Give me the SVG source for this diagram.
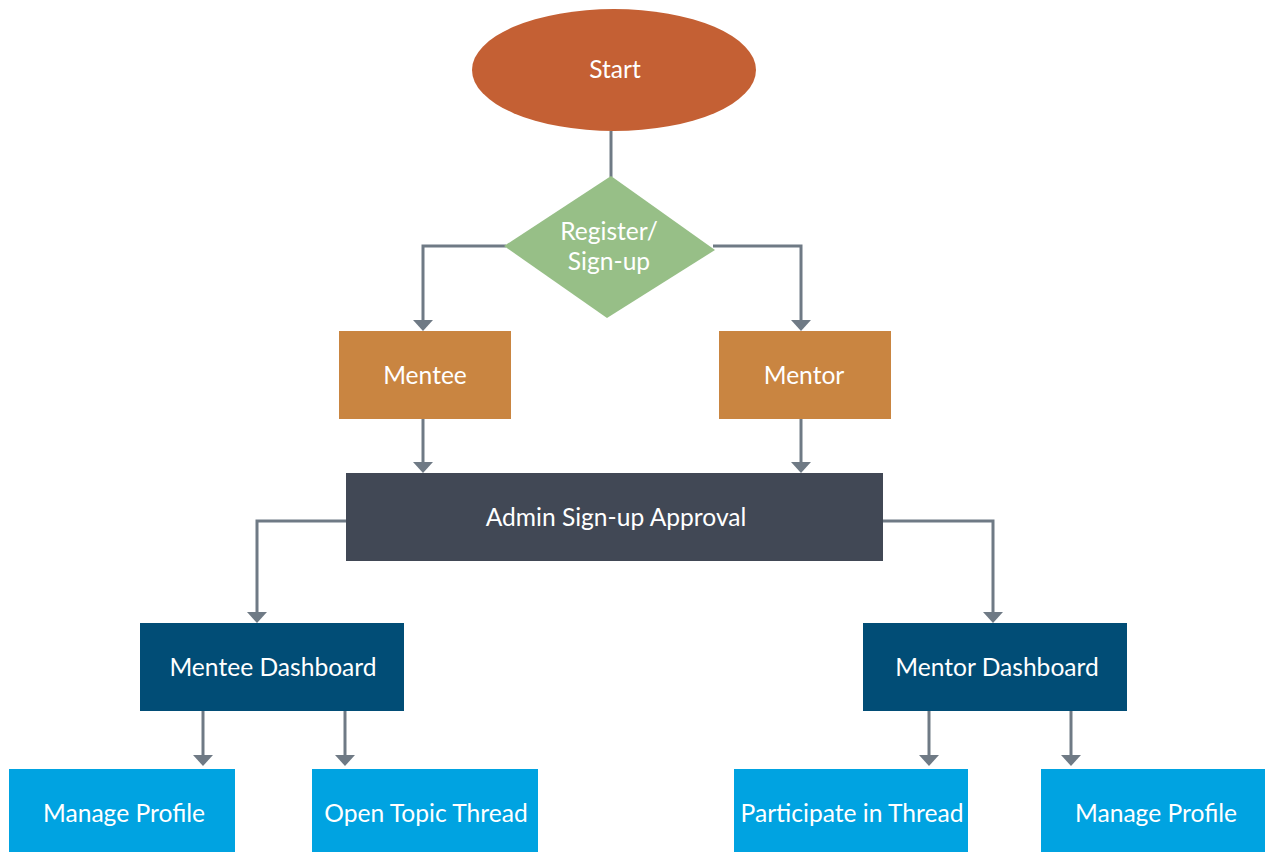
<svg xmlns="http://www.w3.org/2000/svg" width="1265" height="852" viewBox="0 0 1265 852">
<defs>
<style>
.lbl{font-family:Lato,"Noto Sans","Liberation Sans",sans-serif;font-size:24.6px;fill:#ffffff;text-anchor:middle}
.con{fill:none;stroke:#6f7a85;stroke-width:3}
.ah{fill:#6f7a85}
</style>
</defs>
<rect width="1265" height="852" fill="#ffffff"/>
<g id="connectors">
<path class="con" d="M611,131 V177"/>
<path class="con" d="M506,246 H423 V320"/>
<path class="con" d="M713,246 H801 V320"/>
<path class="con" d="M423,419 V462"/>
<path class="con" d="M801,419 V462"/>
<path class="con" d="M346,521 H257 V612"/>
<path class="con" d="M883,521 H993 V612"/>
<path class="con" d="M203,711 V755"/>
<path class="con" d="M345,711 V755"/>
<path class="con" d="M929,711 V755"/>
<path class="con" d="M1071,711 V755"/>
<path class="ah" d="M413,320 L433,320 L423,331 Z"/>
<path class="ah" d="M791,320 L811,320 L801,331 Z"/>
<path class="ah" d="M413,462 L433,462 L423,473 Z"/>
<path class="ah" d="M791,462 L811,462 L801,473 Z"/>
<path class="ah" d="M247,612 L267,612 L257,623 Z"/>
<path class="ah" d="M983,612 L1003,612 L993,623 Z"/>
<path class="ah" d="M193,755 L213,755 L203,766 Z"/>
<path class="ah" d="M335,755 L355,755 L345,766 Z"/>
<path class="ah" d="M919,755 L939,755 L929,766 Z"/>
<path class="ah" d="M1061,755 L1081,755 L1071,766 Z"/>
</g>
<g id="start">
<ellipse cx="614" cy="70" rx="142" ry="61" fill="#c46034"/>
<text class="lbl" x="615" y="78">Start</text>
</g>
<g id="register">
<path d="M611,176 L715,250 L607,318 L504,246 Z" fill="#97bf87"/>
<text class="lbl" x="609" y="240">Register/</text>
<text class="lbl" x="609" y="270">Sign-up</text>
</g>
<g id="mentee">
<rect x="339" y="331" width="172" height="88" fill="#c98541"/>
<text class="lbl" x="425" y="384">Mentee</text>
</g>
<g id="mentor">
<rect x="719" y="331" width="172" height="88" fill="#c98541"/>
<text class="lbl" x="804" y="384">Mentor</text>
</g>
<g id="admin">
<rect x="346" y="473" width="537" height="88" fill="#414855"/>
<text class="lbl" x="616" y="526">Admin Sign-up Approval</text>
</g>
<g id="mentee-dashboard">
<rect x="140" y="623" width="264" height="88" fill="#014d76"/>
<text class="lbl" x="273" y="676">Mentee Dashboard</text>
</g>
<g id="mentor-dashboard">
<rect x="863" y="623" width="264" height="88" fill="#014d76"/>
<text class="lbl" x="997" y="676">Mentor Dashboard</text>
</g>
<g id="mentee-manage-profile">
<rect x="9" y="769" width="226" height="83" fill="#00a3e1"/>
<text class="lbl" x="124" y="822">Manage Profile</text>
</g>
<g id="open-topic-thread">
<rect x="312" y="769" width="226" height="83" fill="#00a3e1"/>
<text class="lbl" x="426" y="822">Open Topic Thread</text>
</g>
<g id="participate-thread">
<rect x="734" y="769" width="234" height="83" fill="#00a3e1"/>
<text class="lbl" x="852" y="822">Participate in Thread</text>
</g>
<g id="mentor-manage-profile">
<rect x="1041" y="769" width="224" height="83" fill="#00a3e1"/>
<text class="lbl" x="1156" y="822">Manage Profile</text>
</g>
</svg>
